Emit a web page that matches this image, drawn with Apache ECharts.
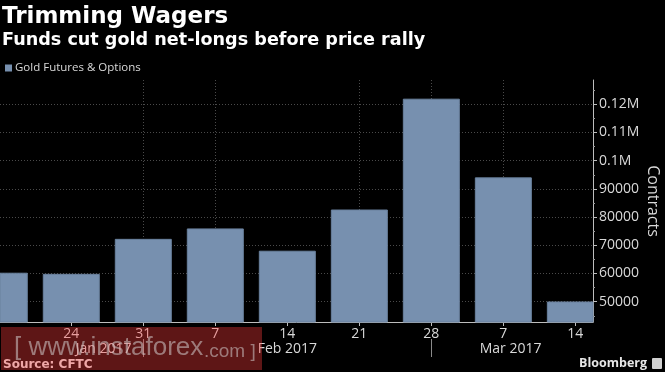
<!DOCTYPE html>
<html>
<head>
<meta charset="utf-8">
<script src="https://cdn.jsdelivr.net/npm/echarts@6/dist/echarts.min.js"></script>
<style>
html,body{margin:0;padding:0;background:#000;}
#c{width:665px;height:372px;}
</style>
</head>
<body>
<div id="c"></div>
<script>
// ---- data ----
const weeks = ['2017-01-17','2017-01-24','2017-01-31','2017-02-07','2017-02-14','2017-02-21','2017-02-28','2017-03-07','2017-03-14'];
const weekLabels = ['17','24','31','7','14','21','28','7','14'];
const contracts = [60100, 59700, 72100, 75800, 67900, 82500, 121800, 93900, 49900];
const yTickValues = [50000, 60000, 70000, 80000, 90000, 100000, 110000, 120000];
const yMinorValues = [45000, 55000, 65000, 75000, 85000, 95000, 105000, 115000, 125000];
const monthLabels = ['Jan 2017', 'Feb 2017', 'Mar 2017'];

// ---- layout constants ----
const xMin = 0.01, xMax = 8.245;
const yMin = 42800, yMax = 128600;
const labelTickIdx = [1, 2, 3, 4, 5, 6, 7, 8];
const vGridIdx = [2, 3, 5, 6, 7];
const monthLabelIdx = [1.45, 4, 7.1];
const monthSepIdx = [2, 6];
const BAR_W = 56;

const FONT = '"Open Sans", "DejaVu Sans", sans-serif';
const TXT = '#d9d9d9';
const BAR_COLOR = '#7790af';

const chart = echarts.init(document.getElementById('c'), null, {renderer: 'canvas'});

const barData = contracts.map((v, i) => [i, v]);

function renderBar(params, api) {
  const x = api.value(0), v = api.value(1);
  const top = api.coord([x, v]);
  const base = api.coord([x, yMin]);
  const cs = params.coordSys;
  const rect = echarts.graphic.clipRectByRect(
    {x: top[0] - BAR_W / 2, y: top[1], width: BAR_W, height: base[1] - top[1]},
    {x: cs.x, y: cs.y, width: cs.width, height: cs.height}
  );
  if (!rect) return;
  return {type: 'rect', shape: rect, style: api.style({fill: BAR_COLOR, stroke: '#6a819e', lineWidth: 1})};
}

const option = {
  backgroundColor: '#000',
  animation: false,
  title: [
    {text: 'Trimming Wagers', left: 2, top: 6, padding: 0,
     textStyle: {color: '#fff', fontFamily: '"DejaVu Sans", sans-serif', fontWeight: 'bold', fontSize: 23}},
    {text: 'Funds cut gold net-longs before price rally', left: 2, top: 31, padding: 0,
     textStyle: {color: '#fff', fontFamily: '"DejaVu Sans", sans-serif', fontWeight: 'bold', fontSize: 17.6}}
  ],
  legend: {
    left: 5, top: 62, padding: 0,
    icon: 'rect', itemWidth: 7, itemHeight: 7, itemGap: 4,
    textStyle: {color: TXT, fontFamily: FONT, fontSize: 11.5, padding: [0, 0, 0, -2]},
    data: [{name: 'Gold Futures & Options', itemStyle: {color: BAR_COLOR}}]
  },
  grid: {left: 0, right: 72, top: 80, bottom: 50, containLabel: false, outerBoundsMode: 'none'},
  xAxis: [
    {
      type: 'value', min: xMin, max: xMax, position: 'bottom',
      axisLine: {show: true, onZero: false, lineStyle: {color: '#bdbdbd', width: 1}},
      axisTick: {show: true, length: 4, customValues: labelTickIdx, lineStyle: {color: '#bdbdbd'}},
      axisLabel: {show: true, customValues: labelTickIdx, margin: 5,
        color: TXT, fontFamily: FONT, fontSize: 14,
        formatter: v => weekLabels[Math.round(v)]},
      splitLine: {show: false}
    },
    {
      type: 'value', min: xMin, max: xMax, position: 'bottom', offset: 17,
      axisLine: {show: false, onZero: false},
      axisTick: {show: true, length: 18, customValues: monthSepIdx, lineStyle: {color: '#8a8a8a'}},
      axisLabel: {show: true, customValues: monthLabelIdx, margin: 3,
        color: TXT, fontFamily: FONT, fontSize: 14,
        formatter: v => monthLabels[monthLabelIdx.indexOf(v)]},
      splitLine: {show: false}
    },
    {
      type: 'value', min: xMin, max: xMax, position: 'top', show: true,
      axisLine: {show: false, onZero: false},
      axisTick: {show: true, length: 0, customValues: vGridIdx, lineStyle: {opacity: 0}},
      axisLabel: {show: false},
      splitLine: {show: true, lineStyle: {color: '#4a4a4a', type: [1, 2], width: 1}}
    }
  ],
  yAxis: [
    {
      type: 'value', min: yMin, max: yMax, position: 'right',
      name: 'Contracts', nameLocation: 'middle', nameRotate: -90, nameGap: 52,
      nameMoveOverlap: false,
      nameTextStyle: {color: TXT, fontFamily: FONT, fontSize: 16},
      axisLine: {show: true, onZero: false, lineStyle: {color: '#bdbdbd', width: 1}},
      axisTick: {show: true, length: 4, customValues: yTickValues, lineStyle: {color: '#bdbdbd'}},
      axisLabel: {show: true, customValues: yTickValues, margin: 6,
        color: TXT, fontFamily: FONT, fontSize: 14,
        formatter: v => v >= 100000 ? (v / 1000000) + 'M' : String(v)},
      splitLine: {show: true, lineStyle: {color: '#4a4a4a', type: [1, 2], width: 1}}
    },
    {
      type: 'value', min: yMin, max: yMax, position: 'right',
      axisLine: {show: false, onZero: false},
      axisTick: {show: true, length: 2, customValues: yMinorValues, lineStyle: {color: '#9a9a9a'}},
      axisLabel: {show: false},
      splitLine: {show: false}
    }
  ],
  series: [
    {
      name: 'Gold Futures & Options',
      type: 'custom',
      xAxisIndex: 0, yAxisIndex: 0,
      z: 3,
      itemStyle: {color: BAR_COLOR},
      encode: {x: 0, y: 1},
      renderItem: renderBar,
      data: barData
    }
  ],
  graphic: [
    {type: 'text', left: 3, top: 359, z: 10,
     style: {text: 'Source: CFTC', fill: '#e6e6e6', font: 'bold 12px "DejaVu Sans", sans-serif'}},
    {type: 'text', right: 18, top: 357, z: 10,
     style: {text: 'Bloomberg', fill: '#e6e6e6', font: 'bold 12.5px "Open Sans", sans-serif'}},
    {type: 'rect', right: 3, top: 358, z: 10,
     shape: {width: 10, height: 11, r: 1}, style: {fill: '#d0d0d0'}},
    {type: 'rect', left: 1, top: 327, z: 20,
     shape: {width: 261, height: 43}, style: {fill: 'rgba(255,60,60,0.37)'}},
    {type: 'text', left: 14, top: 335, z: 21,
     style: {text: '[ www.instaforex', fill: 'rgba(200,190,190,0.6)', font: '26px "Liberation Sans", sans-serif'}},
    {type: 'text', left: 204, top: 342, z: 21,
     style: {text: '.com ]', fill: 'rgba(200,190,190,0.6)', font: '19px "Liberation Sans", sans-serif'}}
  ]
};
chart.setOption(option);
</script>
</body>
</html>
